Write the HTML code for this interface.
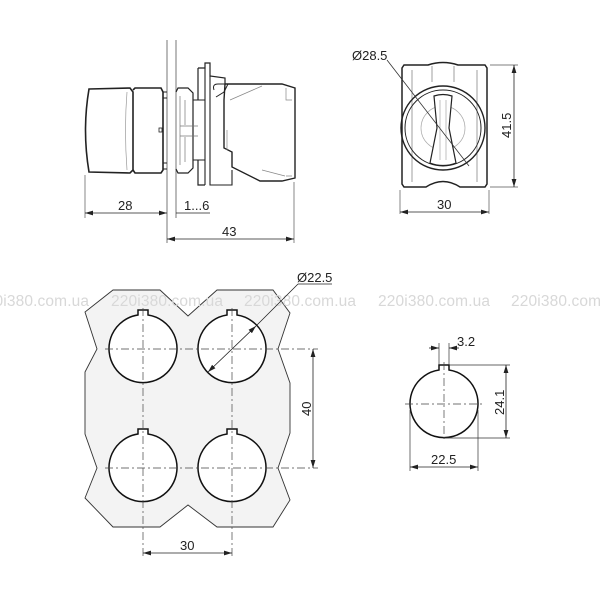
<!DOCTYPE html>
<html><head><meta charset="utf-8"><style>html,body{margin:0;padding:0;background:#fff}svg{display:block}</style></head>
<body>
<svg width="600" height="600" viewBox="0 0 600 600" xmlns="http://www.w3.org/2000/svg" font-family="'Liberation Sans', sans-serif">
<defs>
<marker id="a" viewBox="0 0 10 6" refX="10" refY="3" markerWidth="8" markerHeight="5" orient="auto-start-reverse" markerUnits="userSpaceOnUse"><path d="M0,0 L10,3 L0,6 z" fill="#222"/></marker>
</defs>

<!-- ===== side view ===== -->
<g stroke="#222" fill="none" stroke-width="1">
<line x1="167" y1="40" x2="167" y2="243" stroke="#555" stroke-width="0.8"/>
<line x1="176" y1="40" x2="176" y2="218" stroke="#555" stroke-width="0.8"/>
<path d="M89,89 L130,88 L133,92 L133,170 L130,173 L89,172 Q82,130 89,89 Z" stroke-width="1.6"/>
<path d="M127,92 Q124,130 127,170" stroke="#999" stroke-width="0.7"/>
<path d="M133,90 L135,88 L161,88 L163,92 L163,170 L161,173 L135,173 L133,170" stroke-width="1.6"/>
<rect x="159" y="128" width="3" height="4" stroke-width="0.8"/>
<path d="M163,92 L167,92 M163,98 L167,98 M163,163 L167,163 M163,169 L167,169" stroke-width="0.9"/>
<path d="M176,92 L178,88 L188,88 L193,93 L193,168 L188,173 L178,173 L176,169" stroke-width="1.2"/>
<path d="M180,96 L180,165 M185,100 L185,125 M185,137 L185,162 M180,126 L198,126 M180,136 L198,136" stroke="#777" stroke-width="0.7"/>
<path d="M193,100 L205,100 M193,160 L205,160" stroke-width="1"/>
<path d="M198,68 L205,68 L205,63 L210,63 L210,76 L225,78 L225,84" stroke-width="1.2"/>
<path d="M198,68 L198,100 M198,160 L198,185 L205,185" stroke-width="1.2"/>
<path d="M205,68 L205,185 M210,76 L210,185 L232,185 L232,170" stroke-width="1.1"/>
<path d="M214,90 Q212,84 218,84 L228,84 L224,92 L216,97" stroke-width="1"/>
<path d="M225,84 L282,84 L295,88 L295,178 L282,181 L260,181 L232,167 L232,152 L224,148 L224,100 L225,84" stroke-width="1.4"/>
<path d="M230,100 L262,86 M262,170 L285,176 M286,88 L286,100 L292,100 M286,176 L292,176" stroke="#888" stroke-width="0.7"/>
<line x1="227" y1="130" x2="227" y2="150" stroke="#888" stroke-width="0.7"/>
<line x1="85" y1="175" x2="85" y2="218" stroke="#555" stroke-width="0.7"/>
<line x1="294" y1="182" x2="294" y2="243" stroke="#555" stroke-width="0.7"/>
</g>
<g stroke="#222" stroke-width="0.8">
<line x1="85" y1="213" x2="167" y2="213" marker-start="url(#a)" marker-end="url(#a)"/>
<line x1="176" y1="213" x2="210" y2="213"/>
<line x1="167" y1="239" x2="294" y2="239" marker-start="url(#a)" marker-end="url(#a)"/>
</g>
<g font-size="13" fill="#222">
<text x="118" y="210">28</text>
<text x="184" y="210">1...6</text>
<text x="222" y="236">43</text>
</g>

<!-- ===== front view ===== -->
<g stroke="#222" fill="none">
<path d="M402,68 L404,65 L428,65 Q443,60 458,65 L485,65 L487,68 L487,184 L485,187 L460,187 Q443,176 426,187 L404,187 L402,184 Z" stroke-width="1.5"/>
<path d="M412,70 L412,182 M477,70 L477,182 M432,66 L432,82 M454,66 L454,82" stroke="#777" stroke-width="0.7"/>
<circle cx="443" cy="128" r="42" stroke-width="1.4"/>
<circle cx="443" cy="128" r="38" stroke-width="1"/>
<circle cx="443" cy="128" r="22" stroke="#aaa" stroke-width="0.7"/>
<path d="M434,96 Q443,93 452,96 L449,128 L456,163 Q443,168 430,163 L437,128 Z" fill="#fff" stroke-width="1.2"/>
<path d="M440,100 L440,160 M446,100 L446,160" stroke="#999" stroke-width="0.6"/>
<path d="M400,214 L400,190 M489,214 L489,190 M490,65 L518,65 M490,187 L518,187" stroke="#555" stroke-width="0.7"/>
<line x1="387" y1="60" x2="469" y2="166" stroke="#333" stroke-width="0.8"/>
</g>
<g stroke="#222" stroke-width="0.8">
<line x1="400" y1="212" x2="489" y2="212" marker-start="url(#a)" marker-end="url(#a)"/>
<line x1="514" y1="65" x2="514" y2="187" marker-start="url(#a)" marker-end="url(#a)"/>
</g>
<g font-size="13" fill="#222">
<text x="352" y="60">Ø28.5</text>
<text x="437" y="209">30</text>
<text transform="translate(511,138) rotate(-90)">41.5</text>
</g>

<!-- ===== cutout plate ===== -->
<path d="M113,290 L160,290 L188,316 L217,290 L273,290 L290,313 L278,349 L290,383 L290,433 L278,468 L290,500 L273,527 L217,527 L188,505 L160,527 L113,527 L85,498 L97,468 L85,434 L85,372 L97,349 L85,312 Z" fill="#f3f3f3" stroke="#333" stroke-width="0.9"/>
<!-- watermark -->
<g fill="#d8d8d8" font-size="15.5">
<text x="-23" y="306" textLength="112">220i380.com.ua</text>
<text x="111" y="306" textLength="112">220i380.com.ua</text>
<text x="244" y="306" textLength="112">220i380.com.ua</text>
<text x="378" y="306" textLength="112">220i380.com.ua</text>
<text x="511" y="306" textLength="112">220i380.com.ua</text>
</g>
<g fill="#fff" stroke="#111" stroke-width="1.5">
<path d="M-5,-34 L-5,-39 L5,-39 L5,-34 A34,34 0 1 1 -5,-34 Z" transform="translate(143,349)"/>
<path d="M-5,-34 L-5,-39 L5,-39 L5,-34 A34,34 0 1 1 -5,-34 Z" transform="translate(232,349)"/>
<path d="M-5,-34 L-5,-39 L5,-39 L5,-34 A34,34 0 1 1 -5,-34 Z" transform="translate(143,468)"/>
<path d="M-5,-34 L-5,-39 L5,-39 L5,-34 A34,34 0 1 1 -5,-34 Z" transform="translate(232,468)"/>
</g>
<g stroke="#444" stroke-width="0.7" stroke-dasharray="8,3,2,3" fill="none">
<line x1="105" y1="349" x2="318" y2="349"/>
<line x1="105" y1="468" x2="318" y2="468"/>
<line x1="143" y1="308" x2="143" y2="557"/>
<line x1="232" y1="308" x2="232" y2="557"/>
</g>
<g stroke="#222" stroke-width="0.8">
<line x1="313" y1="349" x2="313" y2="468" marker-start="url(#a)" marker-end="url(#a)"/>
<line x1="143" y1="553" x2="232" y2="553" marker-start="url(#a)" marker-end="url(#a)"/>
<line x1="208" y1="372" x2="256" y2="326" marker-start="url(#a)" marker-end="url(#a)"/>
<line x1="256" y1="326" x2="298" y2="284"/>
<line x1="298" y1="284" x2="332" y2="284"/>
</g>
<g font-size="13" fill="#222">
<text x="297" y="282">Ø22.5</text>
<text x="180" y="550">30</text>
<text transform="translate(311,416) rotate(-90)">40</text>
</g>

<!-- ===== single hole ===== -->
<path d="M-5,-34 L-5,-39 L5,-39 L5,-34 A34,34 0 1 1 -5,-34 Z" transform="translate(444,404)" fill="#fff" stroke="#111" stroke-width="1.5"/>
<g stroke="#444" stroke-width="0.7" stroke-dasharray="8,3,2,3">
<line x1="405" y1="404" x2="482" y2="404"/>
<line x1="444" y1="362" x2="444" y2="442"/>
</g>
<g stroke="#333" stroke-width="0.7">
<line x1="439" y1="343" x2="439" y2="365"/>
<line x1="449" y1="343" x2="449" y2="365"/>
<line x1="449" y1="365" x2="510" y2="365"/>
<line x1="444" y1="438" x2="510" y2="438"/>
<line x1="410" y1="410" x2="410" y2="471"/>
<line x1="478" y1="410" x2="478" y2="471"/>
</g>
<g stroke="#222" stroke-width="0.8">
<line x1="429" y1="348" x2="439" y2="348" marker-end="url(#a)"/>
<line x1="459" y1="348" x2="449" y2="348" marker-end="url(#a)"/>
<line x1="506" y1="365" x2="506" y2="438" marker-start="url(#a)" marker-end="url(#a)"/>
<line x1="410" y1="467" x2="478" y2="467" marker-start="url(#a)" marker-end="url(#a)"/>
</g>
<g font-size="13" fill="#222">
<text x="457" y="346">3.2</text>
<text x="431" y="464">22.5</text>
<text transform="translate(504,415) rotate(-90)">24.1</text>
</g>
</svg>
</body></html>
